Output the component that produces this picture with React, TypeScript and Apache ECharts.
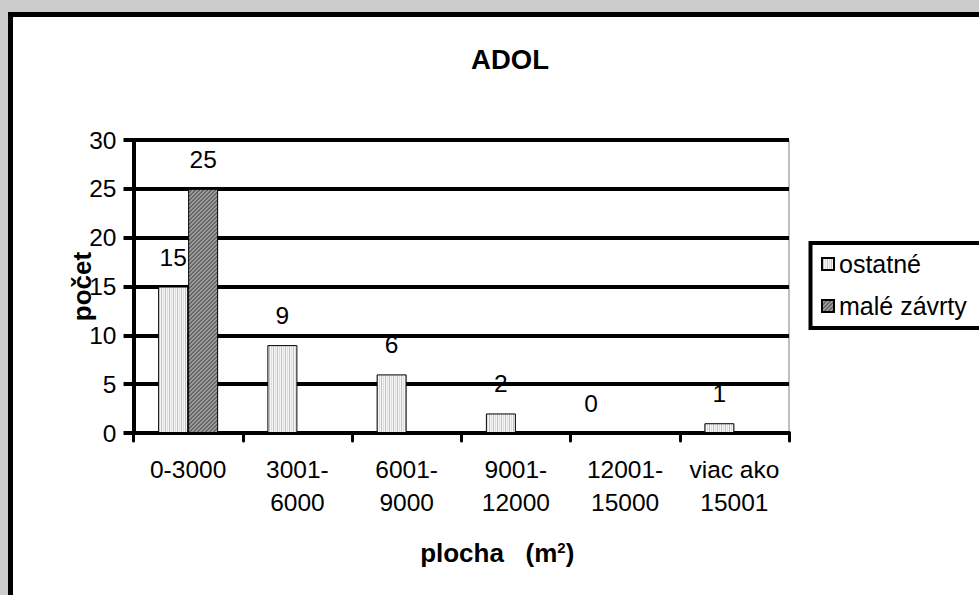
import React, { useEffect, useRef } from 'react';
import * as echarts from 'echarts';

// Size classes of the sinkholes (plocha, m²) and their counts
const categories = ['0-3000', '3001-\n6000', '6001-\n9000', '9001-\n12000', '12001-\n15000', 'viac ako\n15001'];
const ostatne = [15, 9, 6, 2, 0, 1];
const maleZavrty: (number | null)[] = [25, null, null, null, null, null];
const seriesNames = ['ostatné', 'malé závrty'];
const yMin = 0;
const yMax = 30;
const yStep = 5;

const FONT = '"Liberation Sans", Arial, Helvetica, sans-serif';

function makeTile(size: number, paint: (x: number, y: number) => string): HTMLCanvasElement {
  const c = document.createElement('canvas');
  c.width = size;
  c.height = size;
  const ctx = c.getContext('2d')!;
  for (let y = 0; y < size; y++) {
    for (let x = 0; x < size; x++) {
      ctx.fillStyle = paint(x, y);
      ctx.fillRect(x, y, 1, 1);
    }
  }
  return c;
}

export default function App() {
  const ref = useRef<HTMLDivElement>(null);

  useEffect(() => {
    if (!ref.current) return;
    const chart = echarts.init(ref.current, undefined, { renderer: 'svg' });

    // fine vertical stripes for "ostatné", diagonal hatch for "malé závrty"
    const light = makeTile(4, (x) => (x === 1 ? '#c2c2c2' : x === 3 ? '#dedede' : '#f6f6f6'));
    const dark = makeTile(4, (x, y) => ((x + y) % 4 < 2 ? '#666666' : '#9c9c9c'));
    const lightFill: any = { image: light, repeat: 'repeat', imageWidth: 4, imageHeight: 4 };
    const darkFill: any = { image: dark, repeat: 'repeat', imageWidth: 4, imageHeight: 4 };

    const labelStyle = {
      show: true,
      position: 'top' as const,
      distance: 17,
      fontSize: 24.5,
      color: '#000',
      fontFamily: FONT,
    };

    // a zero-height bar gets its label nudged left, as in the original workbook
    const ostatneData = ostatne.map((v) => (v === 0 ? { value: v, label: { offset: [-19, 0] } } : v));

    chart.setOption({
      animation: false,
      backgroundColor: 'transparent',
      textStyle: { fontFamily: FONT, color: '#000' },
      title: {
        text: 'ADOL',
        left: 510,
        top: 45,
        textAlign: 'center',
        padding: 0,
        textStyle: { fontSize: 27.5, fontWeight: 'bold', color: '#000', fontFamily: FONT },
      },
      legend: {
        data: seriesNames,
        orient: 'vertical',
        left: 810.5,
        top: 243,
        icon: 'rect',
        itemWidth: 12,
        itemHeight: 12,
        itemGap: 17,
        padding: [8.5, 40, 9.5, 10.5],
        borderColor: '#000',
        borderWidth: 4,
        backgroundColor: '#fff',
        textStyle: { fontSize: 25, color: '#000', fontFamily: FONT },
      },
      grid: {
        left: 133.5,
        top: 140,
        width: 789 - 133.5,
        height: 293,
        show: true,
        borderColor: '#808080',
        borderWidth: 1,
        backgroundColor: 'transparent',
        containLabel: false,
        outerBoundsMode: 'none',
      },
      xAxis: {
        type: 'category',
        data: categories,
        name: '{b|plocha   (m}{sup|2}{b|)}',
        nameLocation: 'middle',
        nameGap: 107,
        nameMoveOverlap: false,
        nameTextStyle: {
          padding: [0, 0, 0, 72],
          rich: {
            b: { fontSize: 26, fontWeight: 'bold', color: '#000', fontFamily: FONT },
            sup: { fontSize: 15, fontWeight: 'bold', color: '#000', fontFamily: FONT, verticalAlign: 'top', padding: [0, 0, 8, 0] },
          },
        },
        axisLine: { show: true, lineStyle: { color: '#000', width: 4 } },
        axisTick: { show: true, length: 8, lineStyle: { color: '#000', width: 3, cap: 'round' } },
        axisLabel: { interval: 0, margin: 20, fontSize: 24.5, lineHeight: 33, color: '#000', fontFamily: FONT },
        splitLine: { show: false },
      },
      yAxis: {
        type: 'value',
        min: yMin,
        max: yMax,
        interval: yStep,
        name: 'počet',
        nameLocation: 'middle',
        nameGap: 39,
        nameMoveOverlap: false,
        nameRotate: 90,
        nameTextStyle: { fontSize: 26, fontWeight: 'bold', color: '#000', fontFamily: FONT },
        axisLine: { show: true, lineStyle: { color: '#000', width: 4 } },
        axisTick: { show: true, length: 10, lineStyle: { color: '#000', width: 4 } },
        axisLabel: { margin: 17, fontSize: 24.5, color: '#000', fontFamily: FONT },
        splitLine: { show: true, lineStyle: { color: '#000', width: 4 } },
      },
      series: [
        {
          name: seriesNames[0],
          type: 'bar',
          data: ostatneData,
          barWidth: 30,
          barGap: '0%',
          itemStyle: { color: lightFill, borderColor: '#000', borderWidth: 1 },
          label: labelStyle,
          z: 3,
        },
        {
          name: seriesNames[1],
          type: 'bar',
          data: maleZavrty,
          barWidth: 30,
          barGap: '0%',
          itemStyle: { color: darkFill, borderColor: '#000', borderWidth: 1 },
          label: labelStyle,
          z: 3,
        },
      ],
    });

    return () => chart.dispose();
  }, []);

  return (
    <div
      style={{
        position: 'fixed',
        left: 0,
        top: 0,
        width: 979,
        height: 595,
        background: '#cccccc',
        overflow: 'hidden',
      }}
    >
      <div
        style={{
          position: 'absolute',
          left: 8,
          top: 12,
          width: 1100,
          height: 700,
          background: '#ffffff',
          border: '5px solid #000',
        }}
      />
      <div
        ref={ref}
        style={{
          position: 'absolute',
          left: 0,
          top: 0,
          width: 979,
          height: 595,
        }}
      />
    </div>
  );
}
